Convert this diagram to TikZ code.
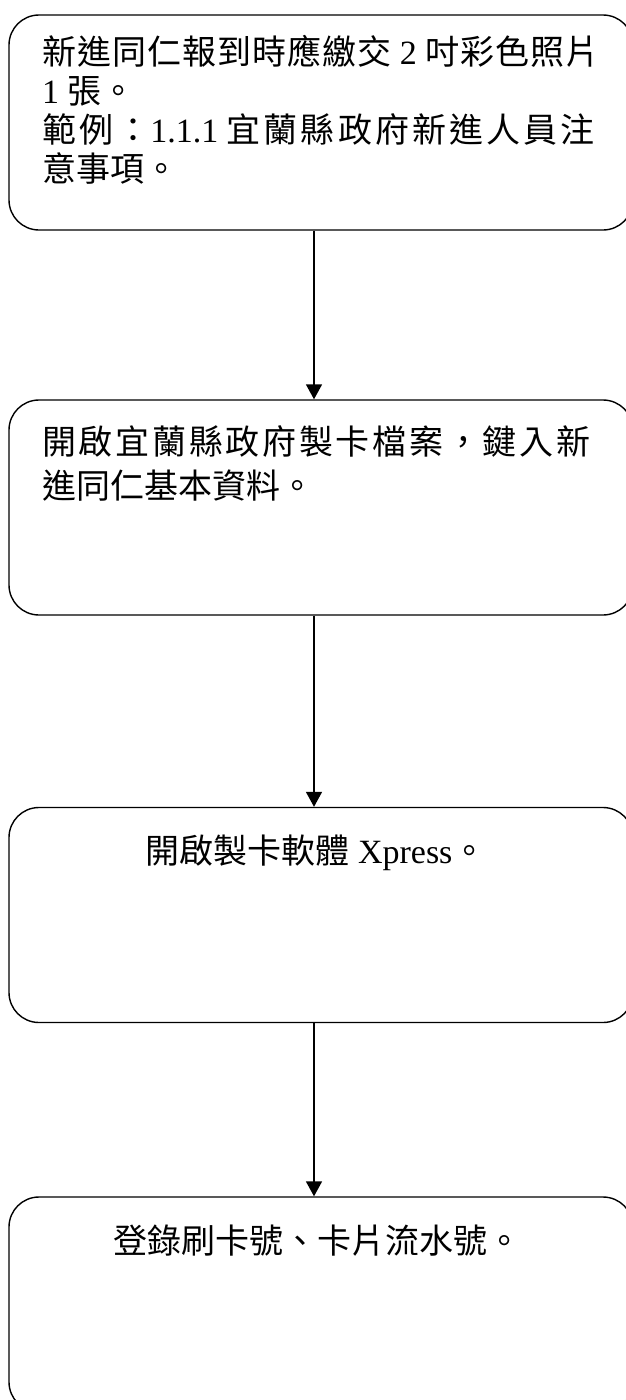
\documentclass[tikz,border=0pt]{standalone}
\usepackage{fontspec}
\setmainfont{Liberation Serif}
\newfontfamily\cjk{Noto Sans CJK TC}
\newfontfamily\cjka[LetterSpace=3]{Noto Sans CJK TC}
\newfontfamily\cjkb[LetterSpace=9]{Noto Sans CJK TC}
\newfontfamily\cjkw[LetterSpace=8]{Noto Sans CJK TC}
\usetikzlibrary{arrows.meta}
\begin{document}
\begin{tikzpicture}[x=1pt,y=-1pt,
  box/.style={draw, line width=1.4pt, rounded corners=30pt, minimum width=624pt, minimum height=215pt, inner sep=0pt},
  txt/.style={inner sep=0pt, font=\fontsize{34}{39}\selectfont, align=left},
  txtb/.style={inner sep=0pt, font=\fontsize{34}{44}\selectfont, align=left},
  arr/.style={line width=1.6pt, -{Triangle[width=16pt,length=15pt]}}]
\useasboundingbox (0,0) rectangle (625,1400);
\node[box] (b1) at (321,122.5) {};
\node[box] (b2) at (321,507.5) {};
\node[box] (b3) at (321,915) {};
\node[box] (b4) at (321,1304.5) {};
\node[txt, anchor=north west] (t1) at (42,35)
  {{\cjka 新進同仁報到時應繳交} 2 {\cjka 吋彩色照片}\\
   1 {\cjk 張。}\\
   {\cjkb 範例：}1.1.1 {\cjkb 宜蘭縣政府新進人員注}\\
   {\cjk 意事項。}};
\node[txtb, anchor=north west] (t2) at (42,425)
  {{\cjkw 開啟宜蘭縣政府製卡檔案，鍵入新}\\
   {\cjk 進同仁基本資料。}};
\node[txt, anchor=base] (t3) at (316,863) {{\cjk 開啟製卡軟體} Xpress{\cjk 。}};
\node[txt, anchor=base] (t4) at (317,1253) {{\cjk 登錄刷卡號、卡片流水號。}};
\coordinate (ax) at (314,0);
\draw[arr] (b1.south -| ax) -- (b2.north -| ax);
\draw[arr] (b2.south -| ax) -- (b3.north -| ax);
\draw[arr] (b3.south -| ax) -- (b4.north -| ax);
\end{tikzpicture}
\end{document}
